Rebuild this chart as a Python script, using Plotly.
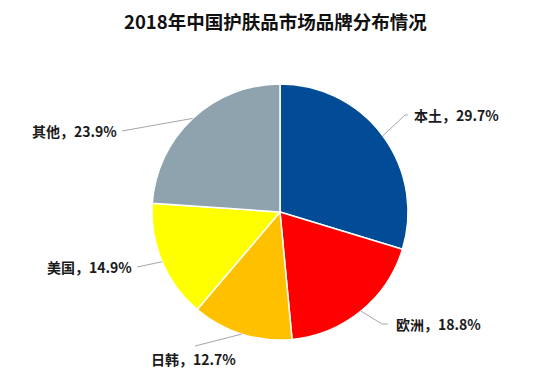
import math
import plotly.graph_objects as go

# ---- data ----
categories = ["本土", "欧洲", "日韩", "美国", "其他"]
shares = [29.7, 18.8, 12.7, 14.9, 23.9]
colors = ["#024C97", "#FF0000", "#FFC000", "#FFFF00", "#8FA3AE"]
title = "2018年中国护肤品市场品牌分布情况"

# ---- label layout (in pie-radius units, relative to pie centre; x right, y up) ----
label_layout = {
    "本土": dict(elbow=(0.977, 0.758), end=(1.00, 0.758), text=(1.03, 0.758), xa="left", ya="middle"),
    "欧洲": dict(elbow=(0.797, -0.875), end=(0.844, -0.875), text=(0.89, -0.875), xa="left", ya="middle"),
    "日韩": dict(elbow=(-0.664, -1.047), end=(-0.664, -1.047), text=(-0.672, -1.148), xa="center", ya="middle"),
    "美国": dict(elbow=(-1.117, -0.43), end=(-1.117, -0.43), text=(-1.14, -0.43), xa="right", ya="middle"),
    "其他": dict(elbow=(-1.234, 0.633), end=(-1.234, 0.633), text=(-1.26, 0.633), xa="right", ya="middle"),
}

# page body has an 8px margin, so the figure is drawn 8px smaller and offset
W, H = 542, 383
L, R, T, B = 144, 142, 76, 51

fig = go.Figure(go.Pie(
    labels=categories,
    values=shares,
    sort=False,
    direction="clockwise",
    rotation=0,
    marker=dict(colors=colors, line=dict(color="white", width=1.5)),
    textinfo="none",
    hoverinfo="label+percent",
    showlegend=False,
    domain=dict(x=[0, 1], y=[0, 1]),
))

def to_paper(u, v):
    return 0.5 + 0.5 * u, 0.5 + 0.5 * v

total = sum(shares)
cum = 0.0
shapes = []
annotations = []
for cat, val in zip(categories, shares):
    mid = (cum + val / 2) / total * 2 * math.pi
    cum += val
    sx, sy = math.sin(mid), math.cos(mid)
    lay = label_layout[cat]
    p0 = to_paper(sx, sy)
    p1 = to_paper(*lay["elbow"])
    p2 = to_paper(*lay["end"])
    path = f"M {p0[0]},{p0[1]} L {p1[0]},{p1[1]} L {p2[0]},{p2[1]}"
    shapes.append(dict(type="path", xref="paper", yref="paper", path=path,
                       line=dict(color="#A6A6A6", width=1)))
    tx, ty = to_paper(*lay["text"])
    pct = round(val / total * 100, 1)
    annotations.append(dict(
        x=tx, y=ty, xref="paper", yref="paper",
        text=f"<b>{cat}，{pct:.1f}%</b>",
        showarrow=False, xanchor=lay["xa"], yanchor=lay["ya"],
        font=dict(size=14, color="#1a1a1a", family="Noto Sans CJK SC"),
    ))

# title as an annotation in paper coords above the plot area
annotations.append(dict(
    x=(275 - 8 - L) / (W - L - R), y=1 + (T - (21 - 8)) / (H - T - B),
    xref="paper", yref="paper", text=f"<b>{title}</b>", showarrow=False,
    xanchor="center", yanchor="middle",
    font=dict(size=18.5, color="#111111", family="Noto Sans CJK SC"),
))

fig.update_layout(
    width=W, height=H,
    margin=dict(l=L, r=R, t=T, b=B),
    paper_bgcolor="white",
    plot_bgcolor="white",
    shapes=shapes,
    annotations=annotations,
    font=dict(family="Noto Sans CJK SC"),
)

fig.write_html("out.html")
